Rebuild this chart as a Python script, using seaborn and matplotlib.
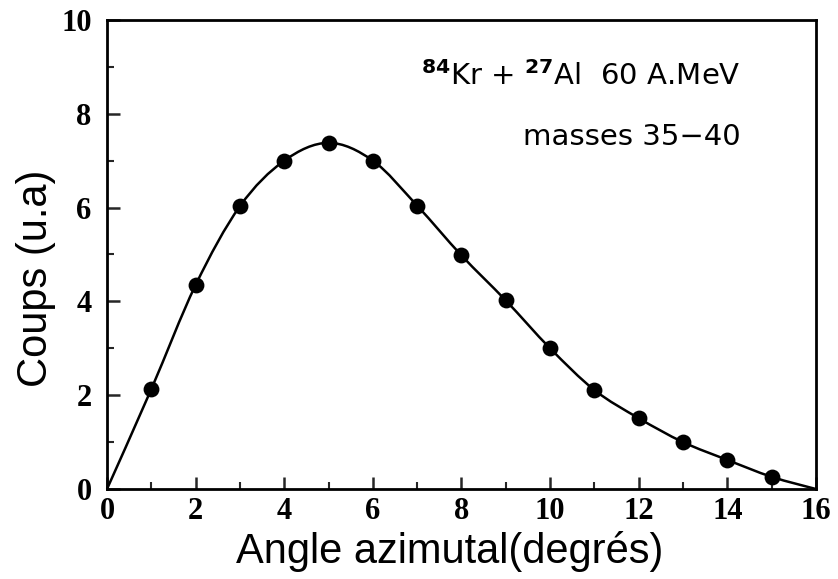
import numpy as np
import pandas as pd
import matplotlib
matplotlib.use("Agg")
import matplotlib.pyplot as plt
from matplotlib.path import Path
from matplotlib.patches import PathPatch
import seaborn as sns

# Data
angles = [1, 2, 3, 4, 5, 6, 7, 8, 9, 10, 11, 12, 13, 14, 15]
counts = [2.13, 4.35, 6.03, 7.0, 7.38, 7.0, 6.04, 4.98, 4.02, 3.0, 2.11, 1.51, 1.0, 0.62, 0.26]
# fitted curve anchors (curve starts and ends on the x axis)
curve_x = [0] + angles + [16]
curve_y = [0.0] + counts + [0.0]

x_ticks = [0, 2, 4, 6, 8, 10, 12, 14, 16]
y_ticks = [0, 2, 4, 6, 8, 10]
x_label = "Angle azimutal(degrés)"
y_label = "Coups (u.a)"
annot1 = r"$^{\mathbf{84}}$Kr + $^{\mathbf{27}}$Al  60 A.MeV"
annot2 = "masses 35\u221240"

sns.set_theme(style="ticks")
plt.rcParams["font.family"] = ["Liberation Sans", "DejaVu Sans"]
plt.rcParams["mathtext.fontset"] = "dejavusans"
plt.rcParams["xtick.labelsize"] = 22
plt.rcParams["ytick.labelsize"] = 22

fig = plt.figure(figsize=(8.38, 5.79), dpi=100)
ax = fig.add_axes([0.1277, 0.1554, 0.8460, 0.8101])

df = pd.DataFrame({"angle": angles, "counts": counts})

# smooth curve through anchors (Catmull-Rom -> cubic Bezier)
cx = np.asarray(curve_x, float)
cy = np.asarray(curve_y, float)
verts = [(cx[0], cy[0])]
codes = [Path.MOVETO]
n = len(cx)
for i in range(n - 1):
    p0 = np.array([cx[max(i - 1, 0)], cy[max(i - 1, 0)]])
    p1 = np.array([cx[i], cy[i]])
    p2 = np.array([cx[i + 1], cy[i + 1]])
    p3 = np.array([cx[min(i + 2, n - 1)], cy[min(i + 2, n - 1)]])
    c1 = p1 + (p2 - p0) / 6.0
    c2 = p2 - (p3 - p1) / 6.0
    verts += [tuple(c1), tuple(c2), tuple(p2)]
    codes += [Path.CURVE4] * 3
ax.add_patch(PathPatch(Path(verts, codes), facecolor="none", edgecolor="black",
                       lw=1.8, zorder=2, clip_on=False))

sns.scatterplot(data=df, x="angle", y="counts", ax=ax, color="black", s=130,
                edgecolor="black", linewidth=0, zorder=3, clip_on=False)

ax.set_xlim(0, 16)
ax.set_ylim(0, 10)
ax.set_xticks(np.arange(0, 17, 1), minor=True)
ax.set_yticks(np.arange(0, 11, 1), minor=True)
ax.set_xticks(x_ticks)
ax.set_yticks(y_ticks)
ax.tick_params(axis="y", which="major", pad=11)
ax.tick_params(axis="x", which="major", pad=6)
ax.tick_params(which="major", direction="in", length=9, width=1.8, top=False, right=False,
               labelsize=22, labelcolor="black", labelfontfamily="Liberation Serif")
ax.tick_params(which="minor", direction="in", length=5, width=1.5, top=False, right=False)
for lab in ax.get_xticklabels() + ax.get_yticklabels():
    lab.set_fontweight("bold")
for sp in ax.spines.values():
    sp.set_linewidth(2.0)
    sp.set_color("black")

ax.set_xlabel(x_label, fontsize=30, color="black")
ax.set_ylabel(y_label, fontsize=30, color="black")
ax.xaxis.set_label_coords(0.484, -0.158)
ax.xaxis.label.set_va("baseline")
ax.yaxis.set_label_coords(-0.072, 0.45)

ax.text(14.3, 8.62, annot1, fontsize=21, ha="right", va="baseline", color="black",
        family=["DejaVu Sans"])
ax.text(14.3, 7.33, annot2, fontsize=21, ha="right", va="baseline", color="black",
        family=["DejaVu Sans"])

fig.savefig("out.png", dpi=100)
